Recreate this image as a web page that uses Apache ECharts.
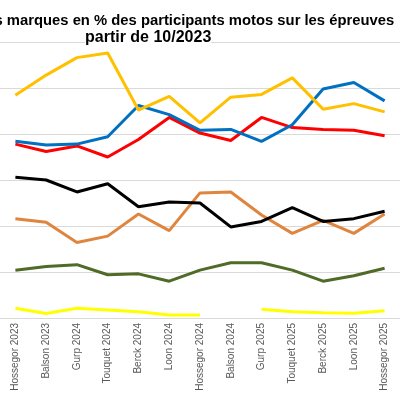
<!DOCTYPE html>
<html>
<head>
<meta charset="utf-8">
<script src="https://cdn.jsdelivr.net/npm/echarts@6/dist/echarts.min.js"></script>
<style>
html,body{margin:0;padding:0;background:#fff;}
#chart{width:400px;height:400px;}
</style>
</head>
<body>
<div id="chart"></div>
<script>
const categories = ["Hossegor 2023","Balson 2023","Gurp 2024","Touquet 2024","Berck 2024","Loon 2024","Hossegor 2024","Balson 2024","Gurp 2025","Touquet 2025","Berck 2025","Loon 2025","Hossegor 2025"];
const titleLine1 = "s marques en % des participants motos sur les épreuves";
const titleLine2 = "partir de 10/2023";
const yTicks = [0, 5, 10, 15, 20, 25, 30];

const serieGold   = [24.2, 26.4, 28.3, 28.8, 22.6, 24.1, 21.2, 24.0, 24.3, 26.1, 22.7, 23.3, 22.4];
const serieBlue   = [19.2, 18.8, 18.9, 19.7, 23.1, 22.1, 20.4, 20.5, 19.2, 21.0, 24.9, 25.6, 23.6];
const serieRed    = [18.9, 18.1, 18.7, 17.5, 19.4, 21.8, 20.1, 19.3, 21.8, 20.7, 20.5, 20.4, 19.8];
const serieBlack  = [15.3, 15.0, 13.7, 14.6, 12.1, 12.6, 12.5, 9.9, 10.5, 12.0, 10.5, 10.8, 11.6];
const serieOrange = [10.8, 10.4, 8.2, 8.9, 11.3, 9.5, 13.6, 13.7, 11.2, 9.2, 10.6, 9.2, 11.3];
const serieGreen  = [5.2, 5.6, 5.8, 4.7, 4.8, 4.0, 5.2, 6.0, 6.0, 5.2, 4.0, 4.6, 5.4];
const serieYellow = [1.05, 0.5, 1.05, 0.87, 0.68, 0.33, 0.33, null, 0.95, 0.68, 0.58, 0.51, 0.79];

const chart = echarts.init(document.getElementById('chart'), null, {renderer: 'canvas'});
function line(name, data, color) {
  return {name, type: 'line', data, symbol: 'none', connectNulls: false,
    lineStyle: {color, width: 3}, itemStyle: {color}};
}
chart.setOption({
  animation: false,
  backgroundColor: '#ffffff',
  grid: {left: -14.3, right: -9.3, top: 42, bottom: 82, containLabel: false},
  graphic: [
    {type: 'text', x: -5.5, y: 20.5, z: 100,
     style: {text: titleLine1, fill: '#000', font: 'bold 14.8px "Liberation Sans", Arial, sans-serif', align: 'left', verticalAlign: 'middle'}},
    {type: 'text', x: 85, y: 37.5, z: 100,
     style: {text: titleLine2, fill: '#000', font: 'bold 16px "Liberation Sans", Arial, sans-serif', align: 'left', verticalAlign: 'middle', backgroundColor: '#fff'}}
  ],
  xAxis: {
    type: 'category', data: categories, boundaryGap: true,
    axisLine: {lineStyle: {color: '#D9D9D9', width: 1}},
    axisTick: {show: false},
    axisLabel: {rotate: 90, color: '#595959', fontSize: 10, fontFamily: '"Liberation Sans", Arial, sans-serif', margin: 5, interval: 0}
  },
  yAxis: {
    type: 'value', min: yTicks[0], max: yTicks[yTicks.length - 1], interval: yTicks[1] - yTicks[0],
    axisLabel: {show: false}, axisLine: {show: false}, axisTick: {show: false},
    splitLine: {lineStyle: {color: '#D9D9D9', width: 1}}
  },
  series: [
    line('Jaune', serieYellow, '#FFFF00'),
    line('Vert', serieGreen, '#4F6B27'),
    line('Orange', serieOrange, '#DF853E'),
    line('Noir', serieBlack, '#000000'),
    line('Rouge', serieRed, '#FF0000'),
    line('Bleu', serieBlue, '#0070C0'),
    line('Or', serieGold, '#FFC000')
  ]
});
</script>
</body>
</html>
